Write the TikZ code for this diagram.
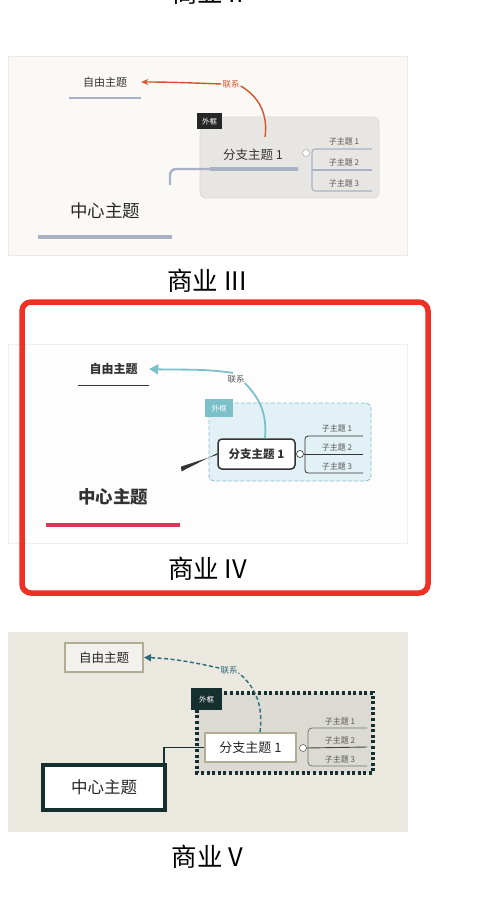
\documentclass[tikz,border=0pt]{standalone}
\usepackage{fontspec}
\setmainfont{Noto Sans CJK SC}
\usetikzlibrary{arrows.meta,calc}
\newcommand\myfs[1]{\fontsize{#1}{#1}\selectfont}
\definecolor{pOneBg}{HTML}{FBF9F6}
\definecolor{pOneEdge}{HTML}{ECEAE6}
\definecolor{pOneFrame}{HTML}{E8E6E2}
\definecolor{pOneFrameEdge}{HTML}{DAD8D4}
\definecolor{pOneLine}{HTML}{A9B2C3}
\definecolor{pOneRel}{HTML}{D4532B}
\definecolor{pTwoBg}{HTML}{FDFDFE}
\definecolor{pTwoEdge}{HTML}{EEEEEE}
\definecolor{pTwoFrame}{HTML}{E1F1F5}
\definecolor{pTwoFrameEdge}{HTML}{86BFCB}
\definecolor{pTwoTeal}{HTML}{7CC0CA}
\definecolor{pTwoDark}{HTML}{333333}
\definecolor{pTwoRed}{HTML}{D63A58}
\definecolor{hiRed}{HTML}{EE3124}
\definecolor{pThreeBg}{HTML}{EBE8DF}
\definecolor{pThreeFrame}{HTML}{DCDBD3}
\definecolor{pThreeKhaki}{HTML}{B3AC94}
\definecolor{pThreeDark}{HTML}{15302E}
\definecolor{pThreeRel}{HTML}{2D6B78}
\definecolor{subGray}{HTML}{555555}
\tikzset{
  titletxt/.style={font=\myfs{25.5}, text=black, inner sep=0pt},
  subtxt/.style={font=\myfs{8}, text=subGray, inner sep=0pt},
  reltxt/.style={font=\myfs{8.5}, inner sep=1pt},
  fktag/.style={font=\myfs{7.5}, text=white, inner sep=0pt, anchor=north west},
  collapse/.style={circle, draw, fill=white, inner sep=0pt, minimum size=7pt, line width=0.6pt},
}
\begin{document}
\begin{tikzpicture}[x=1pt,y=-1pt]
\useasboundingbox (0,0) rectangle (480,900);
\clip (0,0) rectangle (480,900);
\fill[white] (0,0) rectangle (480,900);

% ---------- top title (cut) ----------
\node[titletxt] (tII) at (208,-7) {商业 II};

% ---------- panel 1 : 商业 III ----------
\draw[pOneEdge, fill=pOneBg, line width=0.6] (8,56) rectangle (407,255);
\draw[pOneFrameEdge, fill=pOneFrame, rounded corners=5, line width=0.6] (200,117) rectangle (379,198);
\node[fill=black!85, minimum width=25, minimum height=16, fktag] (fk1) at (197,113) {};
\node[font=\myfs{7.5}, text=white, inner sep=0pt] at (fk1.center) {外框};

\node[font=\myfs{11}, text=black!80, minimum width=72, minimum height=32, inner sep=0pt] (free1) at (105,82) {自由主题};
\draw[pOneLine, line width=2.2] (free1.south west) -- (free1.south east);
\node[font=\myfs{17.5}, text=black!85, minimum width=134, minimum height=52, inner sep=0pt] (cen1) at (105,211) {中心主题};
\draw[pOneLine, line width=3.5] (cen1.south west) -- (cen1.south east);

\node[font=\myfs{12.5}, text=black!80, inner sep=0pt] (br1) at (253,155) {分支主题 1};
\coordinate (t1) at (170,185);
\draw[pOneLine, line width=2.4, rounded corners=6] (t1) -- (170,169) -- (298,169);
\draw[pOneLine, line width=3.6] (210,169) -- (298,169);

\node[collapse, draw=black!30] (col1) at (306,153) {};
\draw[pOneLine, line width=1.1, rounded corners=3] (372,149) -- (312,149) -- (312,191) -- (372,191);
\draw[pOneLine, line width=1.1] (312,170) -- (372,170);
\node[subtxt] (s11) at (344,141) {子主题 1};
\node[subtxt] (s12) at (344,162) {子主题 2};
\node[subtxt] (s13) at (344,183) {子主题 3};

\coordinate (r1) at (265,137);
\node[reltxt, text=pOneRel] (l1) at (231,84) {联系};
\draw[pOneRel, line width=1.4]
  (r1) to[out=82,in=-30] ($(l1.east)+(0,2)$);
\draw[pOneRel, line width=1.4, -{Stealth[length=7pt,width=6pt]}]
  (l1.west) to[out=178,in=0] (free1.east);

\node[titletxt] (tIII) at (207,281) {商业 III};

% ---------- panel 2 : 商业 IV ----------
\draw[pTwoEdge, fill=pTwoBg, line width=0.6] (8,344) rectangle (407,543);
\draw[pTwoFrameEdge, fill=pTwoFrame, rounded corners=5, line width=0.9, dash pattern=on 4pt off 2pt] (209,403) rectangle (371,481);
\node[fill=pTwoTeal, minimum width=28, minimum height=18, fktag] (fk2) at (205,399) {};
\node[font=\myfs{7.5}, text=white, inner sep=0pt] at (fk2.center) {外框};

\node[font=\bfseries\myfs{12}, text=pTwoDark, minimum width=71, minimum height=32, inner sep=0pt] (free2) at (113.5,369) {自由主题};
\draw[pTwoDark, line width=1.2] (free2.south west) -- (free2.south east);
\node[font=\bfseries\myfs{17.5}, text=pTwoDark, minimum width=134, minimum height=56, inner sep=0pt] (cen2) at (113,497) {中心主题};
\draw[pTwoRed, line width=4] (cen2.south west) -- (cen2.south east);

\node[draw=pTwoDark, fill=white, line width=1.5, rounded corners=4, minimum width=77, minimum height=30, inner sep=0pt, font=\bfseries\myfs{11.5}, text=pTwoDark] (br2) at (256.5,454) {分支主题 1};
\coordinate (c2) at (181,469);
\fill[pTwoDark] ($(c2)+(0,-2.4)$) -- ([yshift=-0.8]br2.west) -- ([yshift=0.8]br2.west) -- ($(c2)+(0.5,2.4)$) -- cycle;

\node[collapse, draw=pTwoDark] (col2) at (300,454) {};
\draw[pTwoDark, line width=0.8, rounded corners=3] (363,436) -- (305,436) -- (305,473) -- (363,473);
\draw[pTwoDark, line width=0.8] (col2.east) -- (363,454);
\node[subtxt] (s21) at (337,428) {子主题 1};
\node[subtxt] (s22) at (337,447) {子主题 2};
\node[subtxt] (s23) at (337,466) {子主题 3};

\node[reltxt, text=subGray] (l2) at (236,379) {联系};
\draw[pTwoTeal, line width=1.8]
  ([xshift=8.5]br2.north) to[out=85,in=-45] ($(l2.east)+(-1,4)$);
\draw[pTwoTeal, line width=1.8, -{Triangle[length=9pt,width=10pt]}]
  ($(l2.north)+(-3,-1)$) to[out=172,in=-2] (free2.east);

\node[titletxt] (tIV) at (207.5,569) {商业 IV};
\draw[hiRed, line width=5.5, rounded corners=9] (22,302) rectangle (428,593);

% ---------- panel 3 : 商业 V ----------
\fill[pThreeBg] (8,632) rectangle (408,832);
\draw[pThreeDark, fill=pThreeFrame, line width=3.2, dash pattern=on 3pt off 2.6pt] (197,693) rectangle (373,773);
\node[fill=pThreeDark, minimum width=31, minimum height=22, fktag] (fk3) at (191,688) {};
\node[font=\myfs{7.5}, text=white, inner sep=0pt] at (fk3.center) {外框};

\node[draw=pThreeKhaki, fill=pThreeBg!60!white, line width=2, minimum width=78, minimum height=29, inner sep=0pt, font=\myfs{12.5}, text=black!85] (free3) at (104,657.5) {自由主题};
\node[draw=pThreeDark, fill=white, line width=4, minimum width=122, minimum height=45, inner sep=0pt, font=\myfs{16.5}, text=black!85] (cen3) at (104,787.5) {中心主题};
\node[draw=pThreeKhaki, fill=white, line width=2, minimum width=91, minimum height=29, inner sep=0pt, font=\myfs{13}, text=black!85] (br3) at (250.5,747.5) {分支主题 1};
\draw[pThreeDark, line width=1.3] ([xshift=-3]cen3.north east) |- (br3.west);

\node[collapse, draw=black!60] (col3) at (303,748) {};
\draw[black!55, line width=0.8, rounded corners=4] (367,728) -- (308,728) -- (308,766) -- (367,766);
\draw[black!75, line width=0.9] (col3.east) -- (367,747);
\node[subtxt] (s31) at (340,721) {子主题 1};
\node[subtxt] (s32) at (340,740) {子主题 2};
\node[subtxt] (s33) at (340,759) {子主题 3};

\node[reltxt, text=pThreeRel] (l3) at (229,670) {联系};
\draw[pThreeRel, line width=1.4, dash pattern=on 4pt off 2.5pt]
  ([xshift=9.5]br3.north) to[out=83,in=-40] ($(l3.east)+(0,3)$);
\draw[pThreeRel, line width=1.4, dash pattern=on 4pt off 2.5pt, -{Triangle[length=7pt,width=7pt]}]
  ($(l3.west)+(0,-2)$) to[out=168,in=-2] (free3.east);

\node[titletxt] (tV) at (207.5,857) {商业 V};
\end{tikzpicture}
\end{document}
